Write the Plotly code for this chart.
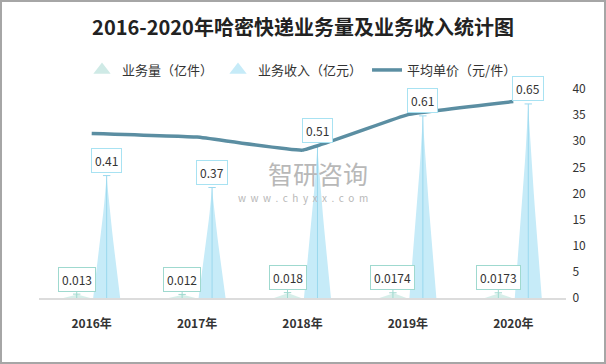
import plotly.graph_objects as go
import numpy as np

years = ["2016年", "2017年", "2018年", "2019年", "2020年"]
volume = [0.013, 0.012, 0.018, 0.0174, 0.0173]      # 业务量（亿件）
revenue = [0.41, 0.37, 0.51, 0.61, 0.65]            # 业务收入（亿元）
price = [31.5, 30.8, 28.3, 35.1, 37.6]              # 平均单价（元/件）
price_ticks = [0, 5, 10, 15, 20, 25, 30, 35, 40]

W, H = 606, 364
ML, MR, MT, MB = 39, 40, 89, 66

OFF = 0.142
HALF = 0.128
FONT = "Noto Sans CJK SC"

vol_fill = "rgba(200,232,226,0.75)"
vol_line = "#9fd9cf"
rev_fill = "#c6ebf8"
rev_line = "#9ad8ee"
price_col = "#5b8ea2"


def spike(cx, h, n=14):
    s = np.linspace(0, 1, n)
    hw = HALF * (1 - s) ** 1.15
    xs = list(cx - hw) + list(cx + hw[::-1])
    ys = list(s * h) + list((s * h)[::-1])
    return xs, ys


fig = go.Figure()

for i, (v, r) in enumerate(zip(volume, revenue)):
    for val, off, fc, lc in ((v, -OFF, vol_fill, vol_line), (r, OFF, rev_fill, rev_line)):
        cx = i + off
        xs, ys = spike(cx, val)
        fig.add_trace(go.Scatter(x=xs, y=ys, mode="lines", fill="toself", fillcolor=fc,
                                 line=dict(width=0, color=fc), showlegend=False,
                                 hoverinfo="skip", yaxis="y"))
        fig.add_trace(go.Scatter(x=[cx, cx, None, cx - 0.035, cx + 0.035], y=[0, val, None, val, val],
                                 mode="lines", line=dict(color=lc, width=1), showlegend=False,
                                 hoverinfo="skip", yaxis="y"))

fig.add_trace(go.Scatter(x=list(range(len(years))), y=price, mode="lines",
                         line=dict(color=price_col, width=3.5, shape="spline", smoothing=0.25),
                         yaxis="y2", showlegend=False, hoverinfo="skip"))

# legend-only entries
fig.add_trace(go.Scatter(x=[None], y=[None], mode="markers", name="业务量（亿件）",
                         marker=dict(symbol="triangle-up", size=15, color="#cfeae6")))
fig.add_trace(go.Scatter(x=[None], y=[None], mode="markers", name="业务收入（亿元）",
                         marker=dict(symbol="triangle-up", size=15, color=rev_fill)))
fig.add_trace(go.Scatter(x=[None], y=[None], mode="lines", name="平均单价（元/件）",
                         line=dict(color=price_col, width=3.5), yaxis="y2"))

ann = []
for i, (v, r) in enumerate(zip(volume, revenue)):
    ann.append(dict(x=i + OFF, y=r, xref="x", yref="y", text=str(r), showarrow=False,
                    yanchor="bottom", yshift=3, bgcolor="white", bordercolor="#a8e2f2",
                    borderwidth=1, borderpad=3, font=dict(size=12, color="#333", family=FONT)))
    ann.append(dict(x=i - OFF, y=v, xref="x", yref="y", text=str(v), showarrow=True,
                    arrowhead=0, arrowwidth=1, arrowcolor=vol_line, ax=0, ay=-15,
                    bgcolor="white", bordercolor=vol_line, borderwidth=1, borderpad=3,
                    font=dict(size=12, color="#333", family=FONT)))

pw = W - ML - MR
ph = H - MT - MB
# watermark
ann.append(dict(x=(318 - ML) / pw, y=(H - MB - 173) / ph, xref="paper", yref="paper",
                text="智研咨询", showarrow=False, font=dict(size=25, color="#b8b8b8", family=FONT)))
ann.append(dict(x=(303 - ML) / pw, y=(H - MB - 197) / ph, xref="paper", yref="paper",
                text="w  w  w  .  c  h  y  x  x  .  c  o  m", showarrow=False,
                font=dict(size=10, color="#b8b8b8", family=FONT)))

fig.update_layout(
    width=W, height=H,
    margin=dict(l=ML, r=MR, t=MT, b=MB, autoexpand=False),
    paper_bgcolor="white", plot_bgcolor="white",
    title=dict(text="<b>2016-2020年哈密快递业务量及业务收入统计图</b>", x=0.5, xanchor="center",
               y=1 - 28 / H, yanchor="middle", font=dict(size=20, color="#222", family=FONT)),
    legend=dict(orientation="h", x=(302 - ML) / pw, xanchor="center", y=(H - MB - 70) / ph,
                yanchor="middle", font=dict(size=13, color="#333", family=FONT),
                bgcolor="rgba(0,0,0,0)"),
    xaxis=dict(range=[-0.5, len(years) - 0.5], tickvals=list(range(len(years))), ticktext=years,
               showgrid=False, zeroline=False, showline=True, linecolor="#dcdcdc", linewidth=2,
               ticks="outside", ticklen=14, tickcolor="rgba(0,0,0,0)",
               tickfont=dict(size=12, color="#333", family=FONT, weight="bold")),
    yaxis=dict(range=[0, 0.7], visible=False, fixedrange=True),
    yaxis2=dict(range=[0, 40], overlaying="y", side="right", tickvals=price_ticks,
                showgrid=False, zeroline=False, showline=False, ticks="outside", ticklen=3,
                tickcolor="rgba(0,0,0,0)", tickfont=dict(size=12, color="#333", family=FONT)),
    annotations=ann,
    shapes=[dict(type="rect", xref="paper", yref="paper",
                 x0=-(ML - 1) / pw, x1=1 + (MR - 1) / pw, y0=-(MB - 1) / ph, y1=1 + (MT - 1) / ph,
                 line=dict(color="#a6a6a6", width=2), fillcolor="rgba(0,0,0,0)", layer="below")],
    showlegend=True,
)

fig.write_html("out.html", config={"displayModeBar": False},
               post_script="document.body.style.margin='0';")
